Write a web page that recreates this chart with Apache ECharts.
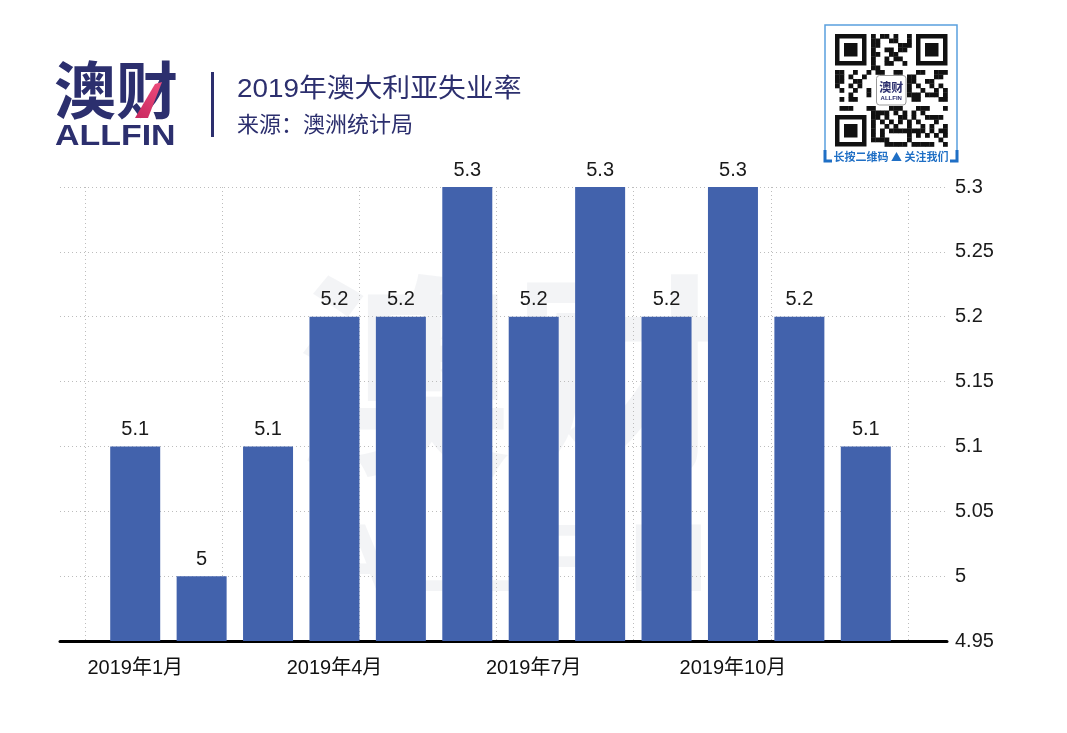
<!DOCTYPE html>
<html><head><meta charset="utf-8">
<script src="https://cdn.jsdelivr.net/npm/echarts@6/dist/echarts.min.js"></script>
<style>html,body{margin:0;padding:0;background:#fff}#c{width:1067px;height:733px}</style>
</head><body><div id="c"></div>
<script>
// ---- data ----
const months = ['2019年1月','2019年2月','2019年3月','2019年4月','2019年5月','2019年6月',
                '2019年7月','2019年8月','2019年9月','2019年10月','2019年11月','2019年12月'];
const rates = [5.1, 5.0, 5.1, 5.2, 5.2, 5.3, 5.2, 5.3, 5.2, 5.3, 5.2, 5.1];
const yMin = 4.95, yMax = 5.3, yStep = 0.05;
const vGridCount = 6; // vertical dotted gridline steps
const titleText = '2019年澳大利亚失业率';
const sourceText = '来源：澳洲统计局';
const logoCn = '澳财', logoEn = 'ALLFIN';
const qrCaption = '长按二维码 ▲ 关注我们';

// ---- styles ----
const NAVY = '#2c2f6e';
const BAR = '#4262ac';
const CJK = '"Noto Sans CJK SC", "Liberation Sans", sans-serif';
const NUM = '"Liberation Sans", Arial, "Noto Sans CJK SC", sans-serif';
const DOT = {type:[1,3], color:'#bdbdbd', width:1};
const WM = 'rgba(228,230,236,0.45)';

// decorative QR-like block
function qrGraphic(ox, oy, n, s) {
  const kids = [];
  const finder = (r0, c0) => {
    kids.push({type:'rect', shape:{x:ox+c0*s, y:oy+r0*s, width:7*s, height:7*s}, style:{fill:'#111'}});
    kids.push({type:'rect', shape:{x:ox+(c0+1)*s, y:oy+(r0+1)*s, width:5*s, height:5*s}, style:{fill:'#fff'}});
    kids.push({type:'rect', shape:{x:ox+(c0+2)*s, y:oy+(r0+2)*s, width:3*s, height:3*s}, style:{fill:'#111'}});
  };
  const inFinder = (r,c) => (r<8&&c<8)||(r<8&&c>=n-8)||(r>=n-8&&c<8);
  const inCenter = (r,c) => r>=9&&r<=15&&c>=9&&c<=15;
  for (let r=0;r<n;r++) for (let c=0;c<n;c++) {
    if (inFinder(r,c)||inCenter(r,c)) continue;
    if (((r*31 + c*17 + r*c*7 + (r^c)) % 11) < 5)
      kids.push({type:'rect', shape:{x:ox+c*s, y:oy+r*s, width:s+0.3, height:s+0.3}, style:{fill:'#111'}});
  }
  finder(0,0); finder(0,n-7); finder(n-7,0);
  const cx = ox + 9*s, cy = oy + 9*s, w = 7*s;
  kids.push({type:'rect', shape:{x:cx+1, y:cy+1, width:w-2, height:w-2, r:3}, style:{fill:'#fff', stroke:'#999', lineWidth:1}});
  kids.push({type:'text', x:cx+w/2, y:cy+w*0.40, style:{text:logoCn, font:'bold 12px '+CJK, fill:NAVY, textAlign:'center', textVerticalAlign:'middle', align:'center', verticalAlign:'middle'}});
  kids.push({type:'text', x:cx+w/2, y:cy+w*0.76, style:{text:logoEn, font:'bold 6px '+NUM, fill:NAVY, textAlign:'center', textVerticalAlign:'middle', align:'center', verticalAlign:'middle'}});
  return kids;
}

const chart = echarts.init(document.getElementById('c'), null, {renderer:'canvas'});
const option = {
  backgroundColor: '#ffffff',
  animation: false,
  grid: [
    {left: 60, right: 120, top: 187, bottom: 92},   // axis line + horizontal lines
    {left: 102, right: 168, top: 187, bottom: 92},  // bars
    {left: 85, right: 159, top: 187, bottom: 92}    // vertical dotted lines
  ],
  xAxis: [
    { type:'value', gridIndex:0, min:0, max:1, position:'bottom',
      axisLine:{show:true, onZero:false, lineStyle:{color:'#000', width:3}},
      axisTick:{show:false}, axisLabel:{show:false}, splitLine:{show:false} },
    { type:'category', gridIndex:1, data: months, boundaryGap:true,
      axisLine:{show:false}, axisTick:{show:false},
      axisLabel:{interval:2, margin:17, fontSize:20, color:'#111', fontFamily:NUM},
      splitLine:{show:false} },
    { type:'value', gridIndex:2, min:0, max:vGridCount, interval:1,
      axisLine:{show:false}, axisTick:{show:false}, axisLabel:{show:false},
      splitLine:{show:true, lineStyle:DOT} }
  ],
  yAxis: [
    { type:'value', gridIndex:0, position:'right', min:yMin, max:yMax, interval:yStep,
      axisLine:{show:false}, axisTick:{show:false},
      axisLabel:{margin:8, fontSize:20, color:'#1a1a1a', fontFamily:NUM},
      splitLine:{show:true, showMinLine:false, lineStyle:DOT} },
    { type:'value', gridIndex:1, min:yMin, max:yMax, interval:yStep, show:false },
    { type:'value', gridIndex:2, min:yMin, max:yMax, interval:yStep, show:false }
  ],
  series: [{
    type:'bar', xAxisIndex:1, yAxisIndex:1, data: rates, barWidth:50, z:3,
    itemStyle:{color:BAR},
    label:{show:true, position:'top', distance:7, fontSize:20, color:'#1a1a1a', fontFamily:NUM}
  }],
  graphic: [
    // watermark
    {type:'text', x:512, y:375, z:-10, silent:true,
     style:{text:logoCn, font:'bold 215px '+CJK, fill:WM, textAlign:'center', textVerticalAlign:'middle', align:'center', verticalAlign:'middle'}},
    {type:'text', x:512, y:565, z:-10, silent:true, scaleX:1.15, originX:0, originY:0,
     style:{text:logoEn, font:'bold 96px '+NUM, fill:WM, textAlign:'center', textVerticalAlign:'middle', align:'center', verticalAlign:'middle'}},
    // logo
    {type:'text', x:54, y:90, style:{text:logoCn, font:'bold 62px '+CJK, fill:NAVY, textAlign:'left', textVerticalAlign:'middle', align:'left', verticalAlign:'middle'}},
    {type:'polygon', shape:{points:[[135,118],[148,118],[162,82],[155,84]]},
     style:{fill:{type:'linear', x:0, y:1, x2:1, y2:0, colorStops:[{offset:0, color:'#c8285e'},{offset:1, color:'#ee4d7e'}]}}},
    {type:'text', x:55, y:137, scaleX:1.17, originX:0, originY:0,
     style:{text:logoEn, font:'bold 29px '+NUM, fill:NAVY, textAlign:'left', textVerticalAlign:'middle', align:'left', verticalAlign:'middle'}},
    // divider
    {type:'rect', shape:{x:211, y:72, width:3, height:65}, style:{fill:NAVY}},
    // title and source
    {type:'text', x:237, y:90, scaleX:1.07, originX:0, originY:0,
     style:{text:titleText, font:'26px '+NUM, fill:NAVY, textAlign:'left', textVerticalAlign:'middle', align:'left', verticalAlign:'middle'}},
    {type:'text', x:237, y:124, style:{text:sourceText, font:'22px '+CJK, fill:NAVY, textAlign:'left', textVerticalAlign:'middle', align:'left', verticalAlign:'middle'}},
    // QR frame
    {type:'group', children: [
      {type:'polyline', shape:{points:[[825,160],[825,25],[957,25],[957,160]]}, style:{stroke:'#5aa0de', lineWidth:1.5, fill:null}},
      {type:'polyline', shape:{points:[[825,150],[825,161],[832,161]]}, style:{stroke:'#1f6fc5', lineWidth:3, fill:null}},
      {type:'polyline', shape:{points:[[950,161],[957,161],[957,150]]}, style:{stroke:'#1f6fc5', lineWidth:3, fill:null}},
      {type:'text', x:891, y:157, style:{text:qrCaption, font:'bold 11px '+CJK, fill:'#1f6fc5', textAlign:'center', textVerticalAlign:'middle', align:'center', verticalAlign:'middle'}}
    ].concat(qrGraphic(835, 34, 25, 4.5))}
  ]
};
chart.setOption(option);
</script>
</body></html>
